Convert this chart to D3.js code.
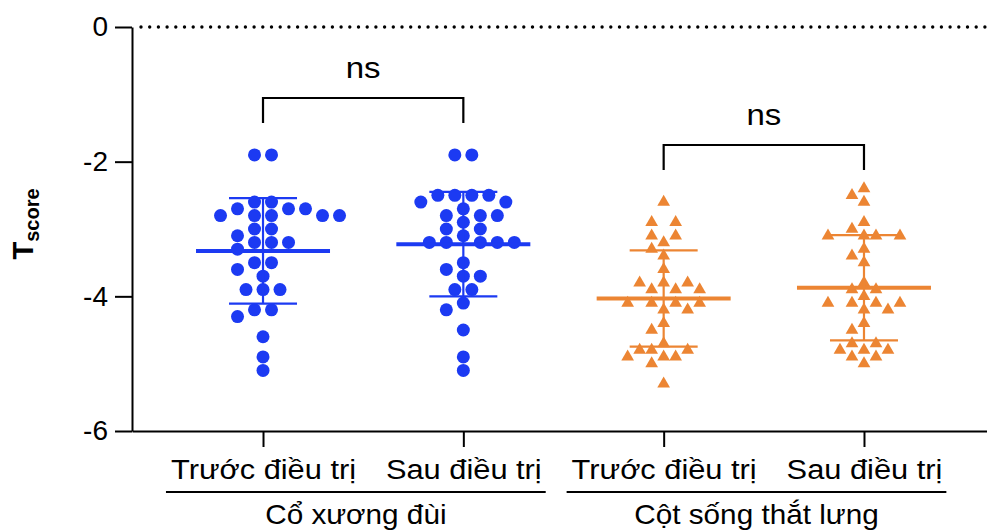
<!DOCTYPE html>
<html>
<head>
<meta charset="utf-8">
<script src="https://cdn.jsdelivr.net/npm/d3@7"></script>
<style>
  body { margin: 0; background: #fff; }
  text { font-family: "Liberation Sans", Arial, sans-serif; fill: #000; }
</style>
</head>
<body>
<div class="content"></div>
<script>
// tick labels and categories
var categoryLabels = ["Trước điều trị", "Sau điều trị", "Trước điều trị", "Sau điều trị"];
var regionNames = ["Cổ xương đùi", "Cột sống thắt lưng"];
var pairLabels = ["ns", "ns"];
var yTicks = [0, -2, -4, -6];

// T-score values, one array per column
var coXuongDuiTruoc = [-1.9, -1.9, -2.6, -2.6, -2.7, -2.7, -2.7, -2.8, -2.8, -2.8, -2.8, -2.8,
  -3.0, -3.0, -3.1, -3.2, -3.2, -3.2, -3.3, -3.5, -3.5, -3.6, -3.7, -3.9, -3.9, -3.9,
  -4.2, -4.2, -4.3, -4.6, -4.9, -5.1];
var coXuongDuiSau = [-1.9, -1.9, -2.5, -2.5, -2.5, -2.5, -2.6, -2.6, -2.7, -2.8, -2.8, -2.8,
  -2.9, -3.0, -3.0, -3.1, -3.2, -3.2, -3.2, -3.2, -3.2, -3.5, -3.6, -3.7, -3.7, -3.9, -3.9,
  -4.1, -4.2, -4.5, -4.9, -5.1];
var cotSongTruoc = [-2.6, -2.9, -2.9, -3.1, -3.1, -3.2, -3.3, -3.4, -3.6, -3.8, -3.8, -3.8,
  -3.9, -3.9, -3.9, -4.1, -4.1, -4.1, -4.1, -4.2, -4.2, -4.4, -4.5, -4.7, -4.8, -4.8, -4.8,
  -4.9, -4.9, -4.9, -5.0, -5.3];
var cotSongSau = [-2.4, -2.5, -2.6, -2.9, -3.0, -3.1, -3.1, -3.1, -3.1, -3.3, -3.4, -3.5,
  -3.8, -3.9, -3.9, -4.0, -4.1, -4.1, -4.1, -4.1, -4.2, -4.2, -4.4, -4.5, -4.7, -4.7,
  -4.8, -4.8, -4.8, -4.9, -4.9, -5.0];

var series = [coXuongDuiTruoc, coXuongDuiSau, cotSongTruoc, cotSongSau];

var width = 987, height = 531;
var blue = "#1c3af2", orange = "#ec8533";
var stretch = "scale(1.1,1)";   // the original lettering is a little wide

var svg = d3.select(".content")
    .append("svg")
    .attr("width", width)
    .attr("height", height);

var y = d3.scaleLinear().domain([-6, 0]).range([431, 27]);
var x = d3.scalePoint().domain(d3.range(4)).range([132, 995]).padding(0.654);

// dotted line at zero
svg.append("line")
    .attr("x1", 141).attr("x2", width)
    .attr("y1", y(0)).attr("y2", y(0))
    .attr("stroke", "#000")
    .attr("stroke-width", 3.4)
    .attr("stroke-linecap", "round")
    .attr("stroke-dasharray", "0,8.7");

// Y axis
var yAxis = svg.append("g")
    .attr("transform", "translate(132,0)")
    .call(d3.axisLeft(y).tickValues(yTicks).tickSize(17).tickSizeOuter(0).tickPadding(7)
        .tickFormat(function(d) { return String(d); }));
yAxis.selectAll("path, line").attr("stroke", "#000").attr("stroke-width", 2);
yAxis.selectAll("text").style("font-size", "28px").attr("fill", "#000");

// X axis
var xAxis = svg.append("g")
    .attr("class", "x-axis")
    .attr("transform", "translate(0," + y(-6) + ")")
    .call(d3.axisBottom(x).tickSize(16).tickSizeOuter(0).tickPadding(12)
        .tickFormat(function(i) { return categoryLabels[i]; }));
xAxis.selectAll("path, line").attr("stroke", "#000").attr("stroke-width", 2);
xAxis.selectAll("text").style("font-size", "28px").attr("fill", "#000").attr("transform", stretch);

// y title: T with subscript "score"
var yTitle = svg.append("text")
    .attr("transform", "translate(33," + 224 + ") rotate(-90)")
    .attr("text-anchor", "middle")
    .style("font-weight", "bold");
yTitle.append("tspan").text("T").style("font-size", "29px");
yTitle.append("tspan").text("score").style("font-size", "20px").attr("dy", 6);

// simple swarm: rows of equal value spread around the centre, avoiding overlap
function swarm(values, step, diam) {
    var placed = [];
    var rows = d3.groups(values.slice().sort(d3.descending), function(v) { return v; });
    rows.forEach(function(row) {
        var v = row[0], n = row[1].length, py = y(v);
        d3.range(n).forEach(function(i) {
            var want = (i - (n - 1) / 2) * step;
            var cands = d3.range(-10, 11).map(function(k) { return k * step / 2; })
                .sort(function(a, b) {
                    return Math.abs(a - want) - Math.abs(b - want) || Math.abs(a) - Math.abs(b);
                });
            var cx = cands.find(function(c) {
                return placed.every(function(p) { return Math.hypot(p.dx - c, p.py - py) >= diam; });
            });
            if (cx === undefined) cx = cands[0];
            placed.push({dx: cx, py: py, v: v});
        });
    });
    return placed;
}

series.forEach(function(vals, i) {
    var isBlue = i < 2;
    var color = isBlue ? blue : orange;
    var cx = x(i);
    var pts = swarm(vals, isBlue ? 17 : 24, isBlue ? 12.8 : 12);
    var g = svg.append("g");

    if (isBlue) {
        g.selectAll("circle").data(pts).enter().append("circle")
            .attr("cx", function(d) { return cx + d.dx; })
            .attr("cy", function(d) { return d.py; })
            .attr("r", 6.5)
            .attr("fill", color);
    } else {
        g.selectAll("path").data(pts).enter().append("path")
            .attr("d", d3.symbol(d3.symbolTriangle, 70))
            .attr("transform", function(d) { return "translate(" + (cx + d.dx) + "," + d.py + ")"; })
            .attr("fill", color);
    }

    // mean with SD
    var m = d3.mean(vals), sd = d3.deviation(vals);
    g.append("line").attr("x1", cx - 67).attr("x2", cx + 67)
        .attr("y1", y(m)).attr("y2", y(m))
        .attr("stroke", color).attr("stroke-width", 4);
    g.append("line").attr("x1", cx).attr("x2", cx)
        .attr("y1", y(m + sd)).attr("y2", y(m - sd))
        .attr("stroke", color).attr("stroke-width", 2.2);
    [m + sd, m - sd].forEach(function(e) {
        g.append("line").attr("x1", cx - 34).attr("x2", cx + 34)
            .attr("y1", y(e)).attr("y2", y(e))
            .attr("stroke", color).attr("stroke-width", 2.2);
    });
});

// significance brackets
var bracketLevels = [[98, 123], [145, 170]];
pairLabels.forEach(function(lab, j) {
    var x1 = x(j * 2), x2 = x(j * 2 + 1);
    var top = bracketLevels[j][0], bottom = bracketLevels[j][1];
    svg.append("path")
        .attr("d", "M" + x1 + "," + bottom + "V" + top + "H" + x2 + "V" + bottom)
        .attr("fill", "none")
        .attr("stroke", "#000")
        .attr("stroke-width", 2.2);
    svg.append("text")
        .attr("transform", "translate(" + ((x1 + x2) / 2) + "," + (top - 20) + ") " + stretch)
        .attr("text-anchor", "middle")
        .style("font-size", "30px")
        .text(lab);
});

// region underline + name, spanning the two tick labels of each region
var labelNodes = xAxis.selectAll(".tick text").nodes();
regionNames.forEach(function(name, j) {
    var a = labelNodes[j * 2].getBoundingClientRect();
    var b = labelNodes[j * 2 + 1].getBoundingClientRect();
    var left = a.left - 5, right = b.right + 4;
    svg.append("line")
        .attr("x1", left).attr("x2", right)
        .attr("y1", 492).attr("y2", 492)
        .attr("stroke", "#000").attr("stroke-width", 2.2);
    svg.append("text")
        .attr("transform", "translate(" + ((left + right) / 2) + ",524) " + stretch)
        .attr("text-anchor", "middle")
        .style("font-size", "27px")
        .text(name);
});
</script>
</body>
</html>
